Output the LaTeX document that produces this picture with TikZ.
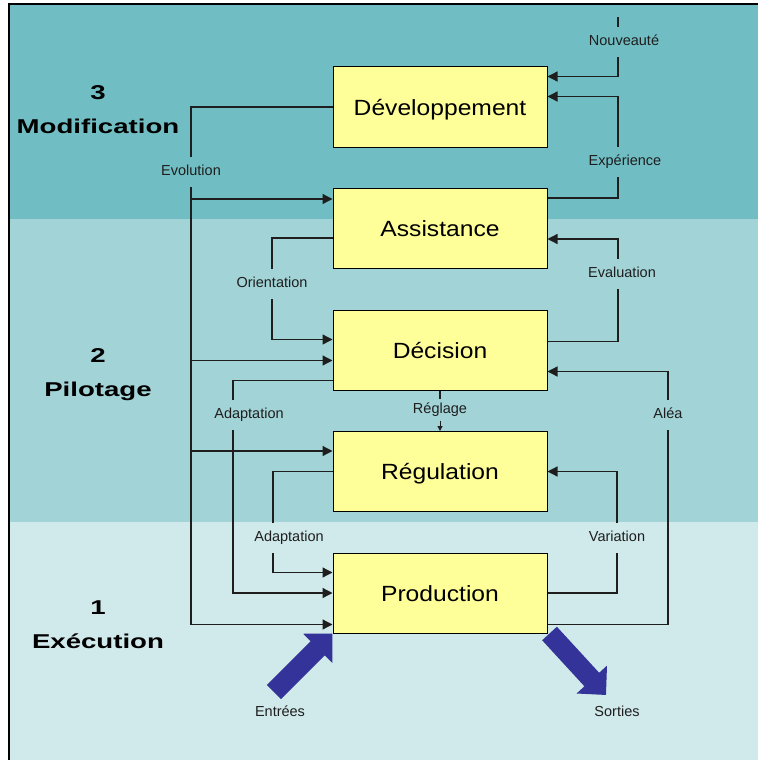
\documentclass[tikz,border=0pt]{standalone}
\usepackage{fontspec}
\setmainfont{Liberation Sans}
\newfontfamily\boxfont[FakeStretch=1.12]{Liberation Sans}
\newfontfamily\levelfont[FakeStretch=1.38]{Liberation Sans}
\usetikzlibrary{arrows.meta, positioning, calc}

\definecolor{bandtop}{HTML}{70BEC3}
\definecolor{bandmid}{HTML}{A2D3D7}
\definecolor{bandlow}{HTML}{D0E9EA}
\definecolor{boxyellow}{HTML}{FFFF99}
\definecolor{arrowblue}{HTML}{333399}
\definecolor{wiregray}{HTML}{1E1E1E}

\begin{document}
\begin{tikzpicture}[
    x = 1pt, y = -1pt, % pixel grid, y going down
    > = {Triangle[length=10pt, width=10pt]}, % arrow head style
    node distance = 40.5pt, % gap between boxes
    box/.style = {draw = black, line width = 1pt, fill = boxyellow,
        minimum width = 214pt, minimum height = 80pt,
        text height = 20pt, text depth = 4pt,
        font = \boxfont\fontsize{22}{26}\selectfont},
    lbl/.style = {font = \fontsize{14.5}{16}\selectfont, text = wiregray,
        text height = 10pt, text depth = 3pt, inner xsep = 2pt, inner ysep = 8.5pt},
    level/.style = {align = center, font = \levelfont\bfseries\fontsize{20}{34}\selectfont},
    wire/.style = {draw = wiregray, line width = 1.3pt},
    bigarrow/.style = {draw = arrowblue, line width = 20pt,
        -{Triangle[length=21pt, width=40pt]}}
    ]

    \useasboundingbox (0,0) rectangle (758,760);

    % the three levels
    \fill[bandtop] (9,4) rectangle (758,219);
    \fill[bandmid] (9,219) rectangle (758,522);
    \fill[bandlow] (9,522) rectangle (758,760);
    \draw[line width=1.5pt] (9,760) -- (9,4) -- (758,4);

    \node[level] (lvl3) at (98,110) {3\\Modification};
    \node[level] (lvl2) at (98,375) {2\\Pilotage};
    \node[level] (lvl1) at (98,625) {1\\Exécution};

    % labels on the loops
    \node[lbl] (evol) at (191,172) {Evolution};
    \node[lbl] (orient) at (272,284) {Orientation};
    \node[lbl] (adapt1) at (249,415) {Adaptation};
    \node[lbl] (adapt2) at (289,538) {Adaptation};
    \node[lbl] (nouv) at (624,42) {Nouveauté};
    \node[lbl] (exper) at (625,162) {Expérience};
    \node[lbl] (evalu) at (622,274) {Evaluation};
    \node[lbl] (alea) at (668,415) {Aléa};
    \node[lbl] (variat) at (617,538) {Variation};
    \node[lbl, inner ysep=4pt] (regl) at (440,410) {Réglage};
    \node[lbl] (entrees) at (280,713) {Entrées};
    \node[lbl] (sorties) at (617,713) {Sorties};

    % inputs and outputs
    \coordinate (inTail) at ([xshift=-6pt, yshift=21pt]entrees.center);
    \coordinate (outTip) at ([xshift=-11pt, yshift=18pt]sorties.center);

    \node[box] (dev) at (440,107) {Développement};
    \node[box] (ass) [below=of dev] {Assistance};
    \node[box] (dec) [below=of ass] {Décision};
    \node[box] (reg) [below=of dec] {Régulation};
    \node[box] (prod) [below=of reg] {Production};

    % ports on the boxes
    \coordinate (devA) at ([yshift=-10pt]dev.north east);
    \coordinate (devB) at ([yshift=-30pt]dev.north east);
    \coordinate (assA) at ([yshift=-11pt]ass.north west);
    \coordinate (assO) at ([yshift=-50pt]ass.north west);
    \coordinate (assR) at ([yshift=-10pt]ass.north east);
    \coordinate (assE) at ([yshift=-51pt]ass.north east);
    \coordinate (decA) at ([yshift=-30pt]dec.north west);
    \coordinate (decB) at ([yshift=-51pt]dec.north west);
    \coordinate (decC) at ([yshift=-71pt]dec.north west);
    \coordinate (decR) at ([yshift=-32pt]dec.north east);
    \coordinate (decE) at ([yshift=-62pt]dec.north east);
    \coordinate (regA) at ([yshift=-20pt]reg.north west);
    \coordinate (prodA) at ([yshift=-20pt]prod.north west);
    \coordinate (prodC) at ([yshift=9pt]prod.south west);
    \coordinate (prodR) at ([yshift=9pt]prod.south east);

    % left loops
    \draw[wire] (dev.west) -| (evol.north);
    \draw[wire, ->] (evol.south) |- (prodC);
    \draw[wire, ->] (evol.south |- assA) -- (assA);
    \draw[wire, ->] (evol.south |- decB) -- (decB);
    \draw[wire, ->] (evol.south |- regA) -- (regA);

    \draw[wire] (assO) -| (orient.north);
    \draw[wire, ->] (orient.south) |- (decA);

    \draw[wire] (decC) -| ([xshift=-16pt]adapt1.north);
    \draw[wire, ->] ([xshift=-16pt]adapt1.south) |- (prod.west);

    \draw[wire] (reg.west) -| ([xshift=-16pt]adapt2.north);
    \draw[wire, ->] ([xshift=-16pt]adapt2.south) |- (prodA);

    % right loops
    \draw[wire] ([xshift=-6pt]nouv.north) -- ++(0,-10);
    \draw[wire, ->] ([xshift=-6pt]nouv.south) |- (devA);

    \draw[wire] (assR) -| ([xshift=-7pt]exper.south);
    \draw[wire, ->] ([xshift=-7pt]exper.north) |- (devB);

    \draw[wire] (decR) -| ([xshift=-4pt]evalu.south);
    \draw[wire, ->] ([xshift=-4pt]evalu.north) |- (assE);

    \draw[wire] (prodR) -| (alea.south);
    \draw[wire, ->] (alea.north) |- (decE);

    \draw[wire] (prod.east) -| (variat.south);
    \draw[wire, ->] (variat.north) |- (reg.east);

    \draw[wire] (dec.south) -- (regl.north);
    \draw[wire, line width=1pt, -{Triangle[length=5pt, width=5pt]}] (regl.south) -- (reg.north);

    % entrees / sorties
    \draw[bigarrow] (inTail) -- (prod.south west);
    \draw[bigarrow] ([xshift=2pt]prod.south east) -- (outTip);
    \end{tikzpicture}
\end{document}
